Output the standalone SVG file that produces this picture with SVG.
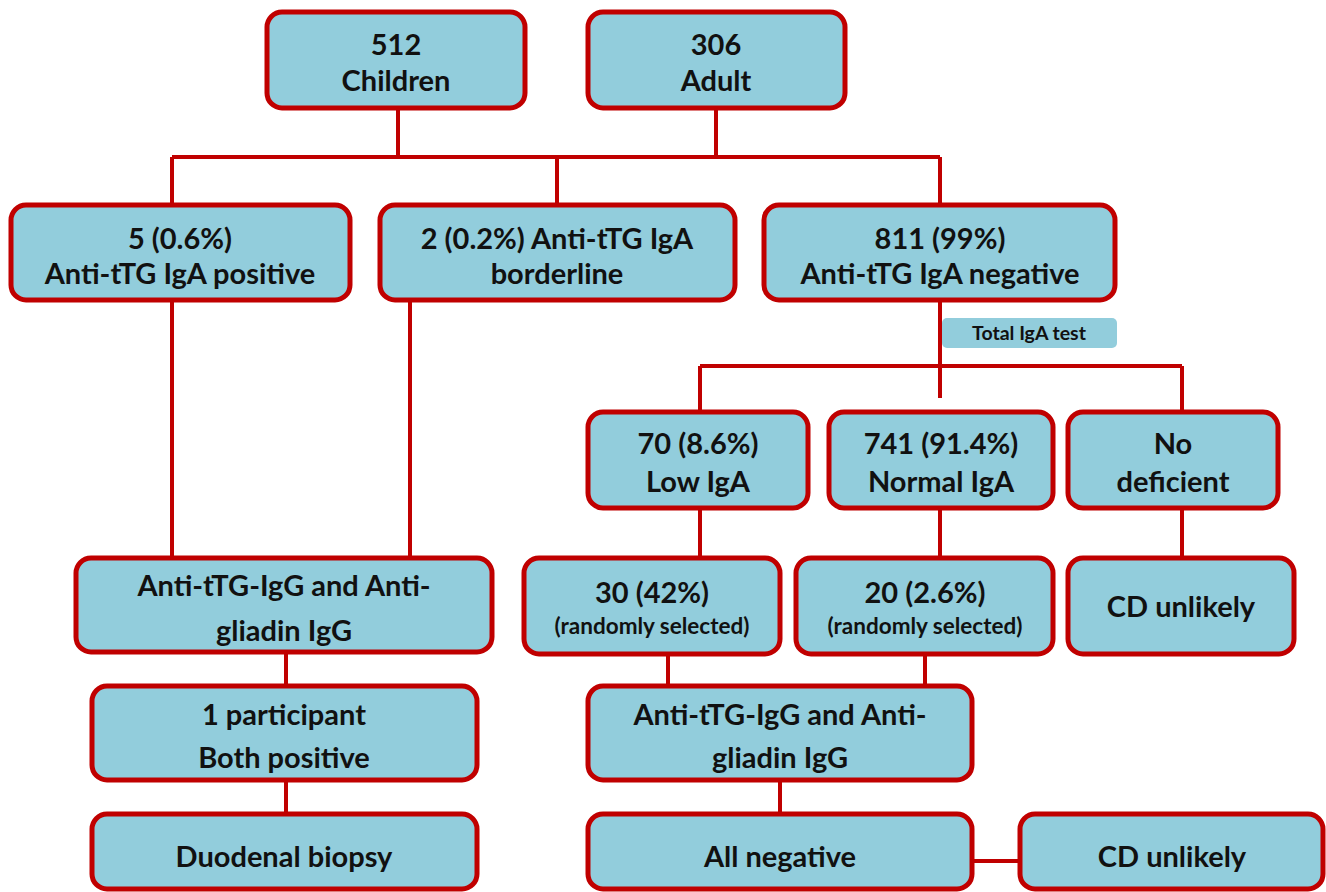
<svg xmlns="http://www.w3.org/2000/svg" width="1326" height="892" viewBox="0 0 1326 892">
<style>
.b{fill:#92CDDC;stroke:#C00000;stroke-width:5}
.t{font-family:Lato,"Open Sans",sans-serif;font-weight:bold;font-size:29px;fill:#111;text-anchor:middle}
.s{font-size:22.5px}
.l{font-size:19.5px}
.c{stroke:#C00000;stroke-width:4;fill:none}
</style>
<rect width="1326" height="892" fill="#fff"/>
<g id="connectors" class="c">
<path d="M398 108V157M716 108V157M172 157H940M172 157V205M557 157V205M940 157V205"/>
<path d="M172 300V560M410 300V560"/>
<path d="M940 300V398M700 366H1182M700 366V412M1182 366V412"/>
<path d="M700 508V558M940 508V558M1182 508V558"/>
<path d="M286 652V686M668 654V686M925 654V686"/>
<path d="M286 780V815M780 780V815M972 861H1020"/>
</g>
<g id="n1"><rect class="b" x="267" y="12" width="258" height="96" rx="15"/><text class="t" x="396" y="55">512</text><text class="t" x="396" y="91">Children</text></g>
<g id="n2"><rect class="b" x="588" y="12" width="257" height="96" rx="15"/><text class="t" x="716" y="55">306</text><text class="t" x="716" y="91">Adult</text></g>
<g id="n3"><rect class="b" x="11" y="205" width="339" height="95" rx="15"/><text class="t" x="180" y="249">5 (0.6%)</text><text class="t" x="180" y="284">Anti-tTG IgA positive</text></g>
<g id="n4"><rect class="b" x="380" y="205" width="355" height="95" rx="15"/><text class="t" x="557" y="249">2 (0.2%) Anti-tTG IgA</text><text class="t" x="557" y="284">borderline</text></g>
<g id="n5"><rect class="b" x="764" y="205" width="351" height="95" rx="15"/><text class="t" x="940" y="249">811 (99%)</text><text class="t" x="940" y="284">Anti-tTG IgA negative</text></g>
<g id="n6"><rect x="942" y="318" width="175" height="30" rx="5" fill="#92CDDC"/><text class="t l" x="1029" y="340">Total IgA test</text></g>
<g id="n7"><rect class="b" x="588" y="412" width="220" height="96" rx="15"/><text class="t" x="698" y="454">70 (8.6%)</text><text class="t" x="698" y="492">Low IgA</text></g>
<g id="n8"><rect class="b" x="829" y="412" width="224" height="96" rx="15"/><text class="t" x="941" y="454">741 (91.4%)</text><text class="t" x="941" y="492">Normal IgA</text></g>
<g id="n9"><rect class="b" x="1068" y="412" width="210" height="96" rx="15"/><text class="t" x="1173" y="454">No</text><text class="t" x="1173" y="492">deficient</text></g>
<g id="n10"><rect class="b" x="76" y="558" width="416" height="94" rx="15"/><text class="t" x="284" y="596">Anti-tTG-IgG and Anti-</text><text class="t" x="284" y="641">gliadin IgG</text></g>
<g id="n11"><rect class="b" x="524" y="558" width="256" height="96" rx="15"/><text class="t" x="652" y="603">30 (42%)</text><text class="t s" x="652" y="634">(randomly selected)</text></g>
<g id="n12"><rect class="b" x="796" y="558" width="257" height="96" rx="15"/><text class="t" x="925" y="603">20 (2.6%)</text><text class="t s" x="925" y="634">(randomly selected)</text></g>
<g id="n13"><rect class="b" x="1068" y="558" width="226" height="96" rx="15"/><text class="t" x="1181" y="617">CD unlikely</text></g>
<g id="n14"><rect class="b" x="92" y="686" width="385" height="94" rx="15"/><text class="t" x="284" y="725">1 participant</text><text class="t" x="284" y="768">Both positive</text></g>
<g id="n15"><rect class="b" x="588" y="686" width="384" height="94" rx="15"/><text class="t" x="780" y="725">Anti-tTG-IgG and Anti-</text><text class="t" x="780" y="768">gliadin IgG</text></g>
<g id="n16"><rect class="b" x="92" y="814" width="385" height="75" rx="15"/><text class="t" x="284" y="867">Duodenal biopsy</text></g>
<g id="n17"><rect class="b" x="588" y="814" width="384" height="75" rx="15"/><text class="t" x="780" y="867">All negative</text></g>
<g id="n18"><rect class="b" x="1020" y="814" width="303" height="75" rx="15"/><text class="t" x="1172" y="867">CD unlikely</text></g>
</svg>
